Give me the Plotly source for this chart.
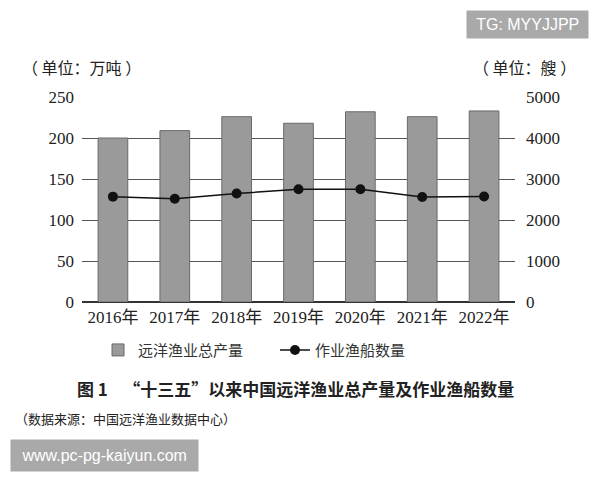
import plotly.graph_objects as go

# 年份 / 产量(万吨) / 渔船(艘)
years = ["2016年", "2017年", "2018年", "2019年", "2020年", "2021年", "2022年"]
output = [200, 209, 226, 218, 232, 226, 233]
vessels = [2570, 2520, 2645, 2750, 2750, 2560, 2575]

serif = "Liberation Serif, Noto Sans CJK SC, serif"
cjk = "Noto Sans CJK SC, sans-serif"

fig = go.Figure()
fig.add_trace(go.Bar(
    x=years, y=output, name="远洋渔业总产量",
    marker=dict(color="#9a9a9a", line=dict(color="#6a6a6a", width=1)),
    width=0.48,
))
fig.add_trace(go.Scatter(
    x=years, y=vessels, name="作业渔船数量", yaxis="y2",
    mode="lines+markers",
    line=dict(color="#111111", width=1.5),
    marker=dict(color="#111111", size=10),
))

# page body adds 8px, so margins are shifted up/left by 8
fig.update_layout(
    width=600, height=480,
    margin=dict(l=74, r=93, t=89, b=186),
    paper_bgcolor="white", plot_bgcolor="white",
    font=dict(family=serif, size=17, color="#222222"),
    showlegend=True,
    legend=dict(orientation="h", x=0.037, xanchor="left", y=-0.235, yanchor="middle",
                font=dict(family=cjk, size=15, color="#333333"),
                itemwidth=30, entrywidth=132, entrywidthmode="pixels",
                traceorder="normal"),
    xaxis=dict(showgrid=False, showline=False, ticks="", range=[-0.5, 6.5],
               tickfont=dict(family=serif, size=17), ticklabelstandoff=3),
    yaxis=dict(range=[0, 250], dtick=50, showgrid=True, gridcolor="#555555", gridwidth=1,
               zeroline=True, zerolinecolor="#333333", zerolinewidth=1.5,
               showline=False, ticks="", tickfont=dict(family=serif, size=17),
               ticklabelstandoff=7),
    yaxis2=dict(range=[0, 5000], dtick=1000, overlaying="y", side="right",
                showgrid=False, zeroline=False, showline=False, ticks="",
                tickfont=dict(family=serif, size=17), ticklabelstandoff=10),
)

ann = [
    dict(text="（ 单位：万吨 ）", x=-0.143, y=1.146, xanchor="left", font=dict(family=cjk, size=16)),
    dict(text="（ 单位：艘 ）", x=1.145, y=1.146, xanchor="right", font=dict(family=cjk, size=16)),
    dict(text="<b>图 1    “十三五”以来中国远洋渔业总产量及作业渔船数量</b>", x=0.494, y=-0.42,
         xanchor="center", font=dict(family=cjk, size=17, color="#222222")),
    dict(text="（数据来源：中国远洋渔业数据中心）", x=-0.16, y=-0.566, xanchor="left",
         font=dict(family=cjk, size=13, color="#222222")),
    dict(text=" TG: MYYJJPP ", x=1.028, y=1.356, xanchor="center", bgcolor="#a9a9a9",
         borderpad=5, font=dict(family="Liberation Sans, sans-serif", size=16, color="white")),
    dict(text=" www.pc-pg-kaiyun.com ", x=0.053, y=-0.751, xanchor="center", bgcolor="#a9a9a9",
         borderpad=7, font=dict(family="Liberation Sans, sans-serif", size=16, color="white")),
]
for a in ann:
    fig.add_annotation(xref="paper", yref="paper", showarrow=False, yanchor="middle", **a)

fig.write_html("out.html")
